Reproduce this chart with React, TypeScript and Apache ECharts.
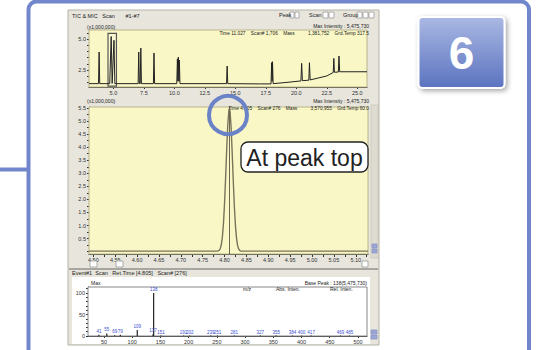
import React, { useEffect, useRef } from "react";
import * as echarts from "echarts";

// ---------- TIC chromatogram (top) ----------
const ticTime = [3.0, 3.78, 3.83, 3.88, 4.70, 4.82, 4.90, 5.05, 5.12, 7.03, 7.08, 7.13, 7.20, 7.25, 7.30, 8.28, 8.33, 8.38, 10.20, 10.25, 10.29, 10.33, 10.37, 10.41, 10.46, 14.28, 14.33, 14.38, 17.0, 17.93, 17.98, 18.02, 18.05, 18.10, 19.0, 20.38, 20.44, 20.50, 21.03, 21.08, 21.14, 22.5, 23.03, 23.08, 23.13, 23.45, 23.50, 23.56, 24.0, 25.8];
const ticValue = [1.40, 1.40, 3.95, 1.40, 1.40, 5.20, 1.42, 4.90, 1.40, 1.40, 3.95, 1.40, 1.40, 4.27, 1.40, 1.40, 3.87, 1.40, 1.40, 3.40, 1.60, 3.55, 1.60, 3.30, 1.40, 1.40, 2.82, 1.40, 1.38, 1.38, 3.10, 1.60, 3.17, 1.40, 1.48, 1.62, 3.04, 1.64, 1.68, 3.09, 1.70, 2.02, 2.30, 3.44, 2.32, 2.34, 3.63, 2.36, 2.36, 2.36];
const ticXLabels = [5.0, 7.5, 10.0, 12.5, 15.0, 17.5, 20.0, 22.5, 25.0];
const ticYLabels = [2.5, 5.0];
const ticYTicks = [1.5, 2.0, 2.5, 3.0, 3.5, 4.0, 4.5, 5.0, 5.5];

// ---------- Zoomed peak (middle) ----------
const peakTime = [4.49, 4.70, 4.78, 4.7825, 4.785, 4.7875, 4.79, 4.7925, 4.795, 4.7975, 4.80, 4.8025, 4.805, 4.8075, 4.81, 4.811, 4.8125, 4.815, 4.8175, 4.82, 4.8225, 4.825, 4.8275, 4.83, 4.8325, 4.835, 4.8375, 4.84, 4.95, 5.128];
const peakValue = [0.02, 0.02, 0.02, 0.02, 0.03, 0.05, 0.11, 0.26, 0.56, 1.08, 1.87, 2.88, 3.98, 4.91, 5.43, 5.476, 5.37, 4.75, 3.76, 2.67, 1.69, 0.96, 0.49, 0.22, 0.09, 0.04, 0.02, 0.02, 0.02, 0.02];
const peakMarker = 4.811;
const peakXLabels = [4.50, 4.55, 4.60, 4.65, 4.70, 4.75, 4.80, 4.85, 4.90, 4.95, 5.00, 5.05, 5.10];
const peakXTicks = [4.500, 4.525, 4.550, 4.575, 4.600, 4.625, 4.650, 4.675, 4.700, 4.725, 4.750, 4.775, 4.800, 4.825, 4.850, 4.875, 4.900, 4.925, 4.950, 4.975, 5.000, 5.025, 5.050, 5.075, 5.100, 5.125];
const peakYLabels = [0.5, 1.0, 1.5, 2.0, 2.5, 3.0, 3.5, 4.0, 4.5, 5.0, 5.5];
const peakYTicks = [0, 0.25, 0.5, 0.75, 1.0, 1.25, 1.5, 1.75, 2.0, 2.25, 2.5, 2.75, 3.0, 3.25, 3.5, 3.75, 4.0, 4.25, 4.5, 4.75, 5.0, 5.25, 5.5];

// ---------- Mass spectrum (bottom) ----------
const specMz = [41, 55, 69, 79, 109, 137, 138, 151, 191, 202, 239, 251, 281, 327, 355, 384, 400, 417, 469, 485];
const specIntensity = [3, 6, 2, 3, 14, 4, 100, 1, 1, 1, 1, 1, 1, 1, 1, 1, 1, 1, 1, 1];
const specXLabels = [50, 100, 150, 200, 250, 300, 350, 400, 450, 500];
const specYLabels = [0, 50, 100];
const specYTicks = [0, 10, 20, 30, 40, 50, 60, 70, 80, 90, 100, 110];

const FONT = "Liberation Sans, Arial, sans-serif";
const BLUE = "#7287cb";

function txt(text: string, x: number, y: number, size: number, fill = "#333", align = "left", extra: any = {}) {
  return {
    type: "text",
    z: extra.z !== undefined ? extra.z : 20,
    style: {
      text, x, y, fill,
      font: `${extra.weight || "normal"} ${size}px ${FONT}`,
      textAlign: align, align,
      textVerticalAlign: "middle", verticalAlign: "middle",
    },
  };
}

function box(x: number, y: number, w: number, h: number, fill = "#fff", stroke = "#999", z = 15) {
  return { type: "rect", z, shape: { x, y, width: w, height: h }, style: { fill, stroke, lineWidth: 0.8 } };
}

export default function App() {
  const ref = useRef<HTMLDivElement>(null);
  useEffect(() => {
    if (!ref.current) return;
    const chart = echarts.init(ref.current, null, { renderer: "svg" });
    const labelStyle = { fontSize: 5.5, color: "#333", fontFamily: FONT };
    const yellowGrid = { color: "#e7e1a4", width: 0.8 };
    const option: any = {
      animation: false,
      textStyle: { fontFamily: FONT },
      grid: [
        { left: 89, top: 30, width: 278, height: 57, show: true, backgroundColor: "#f9f7c6", borderColor: "#b9b48c", borderWidth: 1, z: 1 },
        { left: 89, top: 107, width: 279, height: 147, show: true, backgroundColor: "#f9f7c6", borderColor: "#b9b48c", borderWidth: 1, z: 1 },
        { left: 88, top: 287, width: 279, height: 49, show: true, backgroundColor: "#ffffff", borderColor: "#888", borderWidth: 1, z: 1 },
      ],
      xAxis: [
        {
          type: "value", gridIndex: 0, min: 3.0, max: 25.8,
          axisLine: { show: true, onZero: false, lineStyle: { color: "#333" } },
          axisTick: { show: true, customValues: ticXLabels, length: 2, lineStyle: { color: "#333" } },
          axisLabel: { customValues: ticXLabels, ...labelStyle, margin: 3, formatter: (v: number) => v.toFixed(1) },
          splitLine: { show: true, lineStyle: yellowGrid },
        },
        {
          type: "value", gridIndex: 1, min: 4.49, max: 5.128,
          axisLine: { show: true, onZero: false, lineStyle: { color: "#333" } },
          axisTick: { show: true, customValues: peakXTicks, length: 3, lineStyle: { color: "#333" } },
          axisLabel: { customValues: peakXLabels, ...labelStyle, margin: 3, formatter: (v: number) => v.toFixed(2) },
          splitLine: { show: true, lineStyle: yellowGrid },
        },
        {
          type: "value", gridIndex: 2, min: 21.7, max: 516,
          axisLine: { show: true, onZero: false, lineStyle: { color: "#333" } },
          axisTick: { show: true, customValues: specXLabels, length: 2, lineStyle: { color: "#333" } },
          axisLabel: { customValues: specXLabels, ...labelStyle, margin: 3 },
          splitLine: { show: true, lineStyle: { color: "#c9cde6", width: 0.8, type: "dotted" } },
        },
      ],
      yAxis: [
        {
          type: "value", gridIndex: 0, min: 1.13, max: 5.73,
          axisLine: { show: true, onZero: false, lineStyle: { color: "#333" } },
          axisTick: { show: true, customValues: ticYTicks, length: 2, lineStyle: { color: "#333" } },
          axisLabel: { customValues: ticYLabels, ...labelStyle, margin: 3, formatter: (v: number) => v.toFixed(1) },
          splitLine: { show: false },
        },
        {
          type: "value", gridIndex: 1, min: -0.09, max: 5.54,
          axisLine: { show: true, onZero: false, lineStyle: { color: "#333" } },
          axisTick: { show: true, customValues: peakYTicks, length: 2, lineStyle: { color: "#333" } },
          axisLabel: { customValues: peakYLabels, ...labelStyle, margin: 3, formatter: (v: number) => v.toFixed(1) },
          splitLine: { show: true, lineStyle: yellowGrid },
        },
        {
          type: "value", gridIndex: 2, min: 0, max: 114,
          axisLine: { show: true, onZero: false, lineStyle: { color: "#333" } },
          axisTick: { show: true, customValues: specYTicks, length: 2, lineStyle: { color: "#333" } },
          axisLabel: { customValues: specYLabels, ...labelStyle, margin: 3 },
          splitLine: { show: false },
        },
      ],
      series: [
        {
          type: "line", xAxisIndex: 0, yAxisIndex: 0, showSymbol: false, symbol: "none",
          data: ticTime.map((t, i) => [t, ticValue[i]]),
          lineStyle: { color: "#222", width: 1 },
          markArea: {
            silent: true,
            itemStyle: { color: "rgba(255,255,255,0.15)", borderColor: "#555", borderWidth: 1.2 },
            data: [[{ xAxis: 4.56, yAxis: 1.2 }, { xAxis: 5.25, yAxis: 5.46 }]],
          },
        },
        {
          type: "line", xAxisIndex: 1, yAxisIndex: 1, showSymbol: false, symbol: "none",
          data: peakTime.map((t, i) => [t, peakValue[i]]),
          lineStyle: { color: "#7a735a", width: 1.4 },
          markLine: {
            silent: true, symbol: "none", label: { show: false },
            lineStyle: { color: "#6d6752", width: 1, type: "solid" },
            data: [{ xAxis: peakMarker }],
          },
        },
        {
          type: "bar", xAxisIndex: 2, yAxisIndex: 2, barWidth: 1.2,
          data: specMz.map((m, i) => [m, specIntensity[i]]),
          itemStyle: { color: "#222" },
          label: {
            show: true, position: "top", distance: 1, fontSize: 4.5, color: "#3a4fd0",
            formatter: (p: any) => String(p.value[0]),
          },
          labelLayout: { moveOverlap: "shiftX" },
        },
      ],
      graphic: [
        // outer blue frame
        { type: "rect", z: -10, shape: { x: 28.5, y: 1.5, width: 500.5, height: 420, r: 8 }, style: { fill: "#ffffff", stroke: BLUE, lineWidth: 4 } },
        { type: "line", z: -10, shape: { x1: 0, y1: 169.5, x2: 28, y2: 169.5 }, style: { stroke: BLUE, lineWidth: 4 } },
        // screenshot gray panel
        { type: "rect", z: -9, shape: { x: 68, y: 10, width: 311, height: 335 }, style: { fill: "#e7e5dc", stroke: "#b5b2a6", lineWidth: 1 } },
        // vertical scrollbar of middle chart
        { type: "rect", z: -8, shape: { x: 371, y: 105, width: 7, height: 153 }, style: { fill: "#dedbd0", stroke: "#c4c0b2", lineWidth: 0.6 } },
        box(372, 244, 5, 4, "#9aa6d8", "#8d97c4", -7),
        box(372, 249, 5, 4, "#9aa6d8", "#8d97c4", -7),
        // horizontal scrollbar boxes
        box(90, 261, 7, 6), box(116, 261, 7, 6), box(362, 261, 6, 6),
        // separator and spectrum panel
        { type: "line", z: -7, shape: { x1: 69, y1: 269, x2: 378, y2: 269 }, style: { stroke: "#666", lineWidth: 1 } },
        { type: "rect", z: -8, shape: { x: 72, y: 277, width: 298, height: 67 }, style: { fill: "#ffffff" } },
        box(371, 330, 6, 4, "#9aa6d8", "#8d97c4", -7),
        box(371, 335, 6, 4, "#9aa6d8", "#8d97c4", -7),
        // header texts
        txt("TIC & MIC   Scan       #1-#7", 72, 16, 5.5, "#222"),
        txt("Peak", 279, 15, 5.5, "#222"), box(290, 12, 4, 6), box(295, 12, 4, 6),
        txt("Scan", 309, 15, 5.5, "#222"), box(323, 12, 5, 6), box(329, 12, 5, 6),
        txt("Group", 343, 15, 5.5, "#222"), box(357, 12, 5, 6), box(363, 12, 5, 6), box(369, 12, 5, 6),
        txt("(x1,000,000)", 87, 27, 5, "#222"),
        txt("Max Intensity : 5,475,730", 369, 26, 5, "#222", "right"),
        txt("Time 11.027    Scan# 1,706    Mass          1,381,752    Grd.Temp 317.5", 369, 33, 4.8, "#222", "right"),
        txt("(x1,000,000)", 87, 101, 5, "#222"),
        txt("Max Intensity : 5,475,730", 369, 101, 5, "#222", "right"),
        txt("Time 4.805    Scan# 276    Mass          3,570,955    Grd.Temp 60.0", 369, 108, 4.8, "#222", "right"),
        txt("Event#1  Scan   Ret.Time [4.805]   Scan# [276]", 72, 273, 5.5, "#222"),
        txt("Max", 91, 283, 5, "#222"),
        txt("Base Peak : 138(5,475,730)", 367, 283, 5, "#222", "right"),
        txt("m/z", 243, 289, 5, "#222"), txt("Abs. Inten.", 276, 289, 5, "#222"), txt("Rel. Inten.", 330, 289, 5, "#222"),
        // overlays
        { type: "circle", z: 100, shape: { cx: 228, cy: 115, r: 19 }, style: { fill: "rgba(0,0,0,0)", stroke: "#6a82c6", lineWidth: 4 } },
        { type: "rect", z: 100, shape: { x: 241, y: 142, width: 127, height: 30, r: 7 }, style: { fill: "#ffffff", stroke: "#222", lineWidth: 1.3 } },
        txt("At peak top", 304.5, 157.5, 23, "#222", "center", { z: 101 }),
        {
          type: "rect", z: 100, shape: { x: 418.5, y: 17, width: 86, height: 71, r: 4 },
          style: {
            fill: new echarts.graphic.LinearGradient(0, 0, 0, 1, [
              { offset: 0, color: "#aab8e3" },
              { offset: 1, color: "#5b73c0" },
            ]),
            stroke: "#ffffff", lineWidth: 2,
            shadowBlur: 5, shadowColor: "rgba(0,0,0,0.35)", shadowOffsetX: 2, shadowOffsetY: 2,
          },
        },
        txt("6", 461.5, 53, 46, "#ffffff", "center", { weight: "bold", z: 101 }),
      ],
    };
    chart.setOption(option);
    return () => chart.dispose();
  }, []);
  return <div ref={ref} style={{ position: "fixed", left: 0, top: 0, width: 541, height: 350, background: "#ffffff" }} />;
}
